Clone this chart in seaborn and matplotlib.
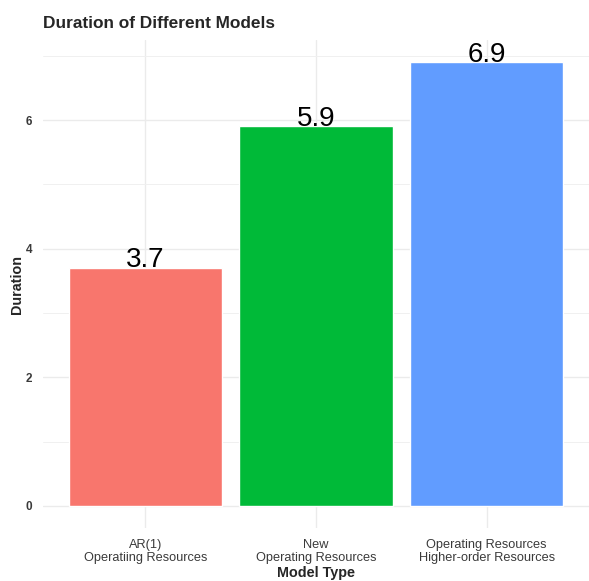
import numpy as np
import pandas as pd
import seaborn as sns
import matplotlib.pyplot as plt
from matplotlib.ticker import MultipleLocator

models = ["AR(1)\nOperatiing Resources", "New\nOperating Resources",
          "Operating Resources\nHigher-order Resources"]
durations = [3.7, 5.9, 6.9]
colors = ["#F8766D", "#00BA38", "#619CFF"]

df = pd.DataFrame({"model": models, "duration": durations})

sns.set_style("white")
plt.rcParams["font.family"] = ["Liberation Sans", "DejaVu Sans"]

fig = plt.figure(figsize=(5.89, 5.81), dpi=100)
ax = fig.add_axes([43 / 589, 1 - 528 / 581, 1 - 43 / 589, 488 / 581])

sns.barplot(data=df, x="model", y="duration", hue="model", palette=colors,
            width=0.9, saturation=1, legend=False, ax=ax, zorder=3)

# value labels sitting on top of each bar
for i, v in enumerate(durations):
    ax.text(i, v + 0.01, f"{v:.1f}", ha="center", va="baseline", fontsize=20,
            color="black", zorder=4)

ax.set_xlim(-0.6, 2.6)
ax.set_ylim(-0.345, 7.245)
ax.yaxis.set_major_locator(MultipleLocator(2))
ax.yaxis.set_minor_locator(MultipleLocator(1))
ax.grid(True, which="major", color="#EBEBEB", linewidth=1.0, zorder=0)
ax.grid(True, which="minor", axis="y", color="#F0F0F0", linewidth=0.7, zorder=0)
ax.set_axisbelow(True)
for s in ax.spines.values():
    s.set_visible(False)
ax.tick_params(axis="both", which="both", length=0, labelcolor="#3A3A3A")
ax.tick_params(axis="x", labelsize=9.2, pad=8)
ax.tick_params(axis="y", labelsize=8.5, pad=8)
for lab in ax.get_yticklabels():
    lab.set_fontweight("bold")
for lab in ax.get_xticklabels():
    lab.set_linespacing(1.05)

ax.set_xlabel("Model Type", fontsize=10.4, fontweight="bold", labelpad=2)
ax.set_ylabel("Duration", fontsize=10.4, fontweight="bold", labelpad=1)
fig.text(43 / 589, 1 - 23 / 581, "Duration of Different Models", fontsize=12.4,
         fontweight="bold", ha="left", va="center")

fig.savefig("out.png", dpi=100)
